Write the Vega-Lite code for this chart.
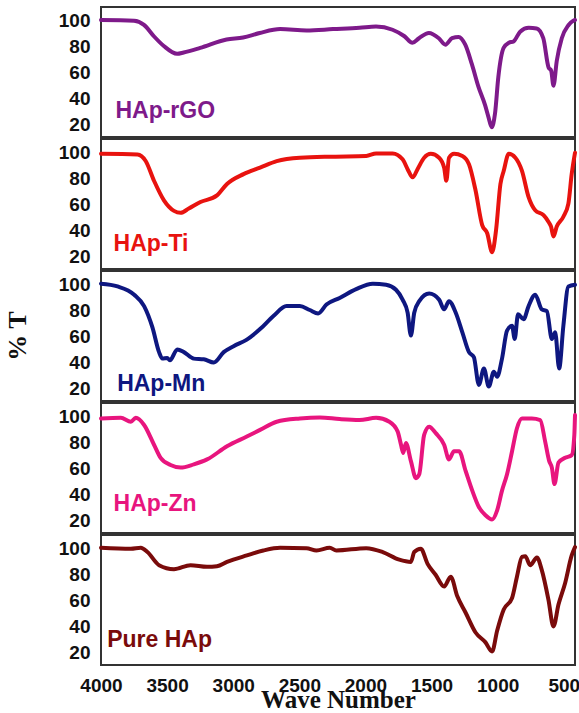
{
"$schema": "https://vega.github.io/schema/vega-lite/v6.json",
"padding": {"left": 5, "top": 6, "right": 3, "bottom": 0},
"background": "white",
"datasets": {"d": [
{"k":"d","s":"HAp-rGO","w":4000,"t":100},{"k":"d","s":"HAp-rGO","w":3750,"t":99.5},{"k":"d","s":"HAp-rGO","w":3675,"t":96.3},{"k":"d","s":"HAp-rGO","w":3600,"t":87.5},{"k":"d","s":"HAp-rGO","w":3525,"t":80},{"k":"d","s":"HAp-rGO","w":3425,"t":74},{"k":"d","s":"HAp-rGO","w":3375,"t":75},{"k":"d","s":"HAp-rGO","w":3250,"t":78.5},{"k":"d","s":"HAp-rGO","w":3050,"t":85},{"k":"d","s":"HAp-rGO","w":2925,"t":86.5},{"k":"d","s":"HAp-rGO","w":2800,"t":90},{"k":"d","s":"HAp-rGO","w":2645,"t":93},{"k":"d","s":"HAp-rGO","w":2445,"t":92},{"k":"d","s":"HAp-rGO","w":2245,"t":93},{"k":"d","s":"HAp-rGO","w":2045,"t":94},{"k":"d","s":"HAp-rGO","w":1920,"t":95},{"k":"d","s":"HAp-rGO","w":1795,"t":92.5},{"k":"d","s":"HAp-rGO","w":1705,"t":87.5},{"k":"d","s":"HAp-rGO","w":1645,"t":82.5},{"k":"d","s":"HAp-rGO","w":1595,"t":86},{"k":"d","s":"HAp-rGO","w":1520,"t":90},{"k":"d","s":"HAp-rGO","w":1445,"t":86},{"k":"d","s":"HAp-rGO","w":1395,"t":81},{"k":"d","s":"HAp-rGO","w":1345,"t":86},{"k":"d","s":"HAp-rGO","w":1295,"t":87},{"k":"d","s":"HAp-rGO","w":1245,"t":81},{"k":"d","s":"HAp-rGO","w":1195,"t":66},{"k":"d","s":"HAp-rGO","w":1145,"t":48.5},{"k":"d","s":"HAp-rGO","w":1095,"t":34.5},{"k":"d","s":"HAp-rGO","w":1070,"t":25.5},{"k":"d","s":"HAp-rGO","w":1045,"t":17.5},{"k":"d","s":"HAp-rGO","w":1020,"t":28},{"k":"d","s":"HAp-rGO","w":995,"t":56},{"k":"d","s":"HAp-rGO","w":955,"t":78.5},{"k":"d","s":"HAp-rGO","w":915,"t":82.5},{"k":"d","s":"HAp-rGO","w":880,"t":83.5},{"k":"d","s":"HAp-rGO","w":830,"t":91},{"k":"d","s":"HAp-rGO","w":765,"t":94},{"k":"d","s":"HAp-rGO","w":705,"t":93.5},{"k":"d","s":"HAp-rGO","w":655,"t":86},{"k":"d","s":"HAp-rGO","w":615,"t":63.5},{"k":"d","s":"HAp-rGO","w":595,"t":61},{"k":"d","s":"HAp-rGO","w":578,"t":49.5},{"k":"d","s":"HAp-rGO","w":553,"t":68.5},{"k":"d","s":"HAp-rGO","w":515,"t":86},{"k":"d","s":"HAp-rGO","w":465,"t":96},{"k":"d","s":"HAp-rGO","w":428,"t":99.5},{"k":"d","s":"HAp-rGO","w":415,"t":100},
{"k":"d","s":"HAp-Ti","w":4000,"t":98.6},{"k":"d","s":"HAp-Ti","w":3724,"t":98.1},{"k":"d","s":"HAp-Ti","w":3662,"t":93.1},{"k":"d","s":"HAp-Ti","w":3599,"t":77.9},{"k":"d","s":"HAp-Ti","w":3524,"t":62.8},{"k":"d","s":"HAp-Ti","w":3448,"t":54.7},{"k":"d","s":"HAp-Ti","w":3398,"t":53.2},{"k":"d","s":"HAp-Ti","w":3336,"t":56.5},{"k":"d","s":"HAp-Ti","w":3248,"t":61.5},{"k":"d","s":"HAp-Ti","w":3123,"t":66.6},{"k":"d","s":"HAp-Ti","w":3047,"t":75.4},{"k":"d","s":"HAp-Ti","w":2922,"t":83},{"k":"d","s":"HAp-Ti","w":2797,"t":88},{"k":"d","s":"HAp-Ti","w":2671,"t":93},{"k":"d","s":"HAp-Ti","w":2496,"t":95.6},{"k":"d","s":"HAp-Ti","w":2245,"t":96.4},{"k":"d","s":"HAp-Ti","w":1994,"t":96.9},{"k":"d","s":"HAp-Ti","w":1919,"t":98.9},{"k":"d","s":"HAp-Ti","w":1794,"t":98.9},{"k":"d","s":"HAp-Ti","w":1719,"t":94.4},{"k":"d","s":"HAp-Ti","w":1681,"t":86.8},{"k":"d","s":"HAp-Ti","w":1643,"t":80.5},{"k":"d","s":"HAp-Ti","w":1606,"t":86.8},{"k":"d","s":"HAp-Ti","w":1556,"t":95.6},{"k":"d","s":"HAp-Ti","w":1506,"t":98.6},{"k":"d","s":"HAp-Ti","w":1443,"t":95.6},{"k":"d","s":"HAp-Ti","w":1405,"t":88},{"k":"d","s":"HAp-Ti","w":1388,"t":77.9},{"k":"d","s":"HAp-Ti","w":1368,"t":95.6},{"k":"d","s":"HAp-Ti","w":1330,"t":98.6},{"k":"d","s":"HAp-Ti","w":1267,"t":96.9},{"k":"d","s":"HAp-Ti","w":1217,"t":90.6},{"k":"d","s":"HAp-Ti","w":1167,"t":70.4},{"k":"d","s":"HAp-Ti","w":1117,"t":43.8},{"k":"d","s":"HAp-Ti","w":1079,"t":37.5},{"k":"d","s":"HAp-Ti","w":1042,"t":22.9},{"k":"d","s":"HAp-Ti","w":1012,"t":40},{"k":"d","s":"HAp-Ti","w":979,"t":75.4},{"k":"d","s":"HAp-Ti","w":954,"t":85.5},{"k":"d","s":"HAp-Ti","w":916,"t":98.6},{"k":"d","s":"HAp-Ti","w":866,"t":95.6},{"k":"d","s":"HAp-Ti","w":816,"t":85.5},{"k":"d","s":"HAp-Ti","w":766,"t":65.3},{"k":"d","s":"HAp-Ti","w":716,"t":55.2},{"k":"d","s":"HAp-Ti","w":653,"t":51.4},{"k":"d","s":"HAp-Ti","w":616,"t":46.4},{"k":"d","s":"HAp-Ti","w":596,"t":42.6},{"k":"d","s":"HAp-Ti","w":578,"t":35},{"k":"d","s":"HAp-Ti","w":553,"t":42.6},{"k":"d","s":"HAp-Ti","w":503,"t":50.2},{"k":"d","s":"HAp-Ti","w":465,"t":60.3},{"k":"d","s":"HAp-Ti","w":440,"t":83},{"k":"d","s":"HAp-Ti","w":415,"t":99.4},
{"k":"d","s":"HAp-Mn","w":4000,"t":100.2},{"k":"d","s":"HAp-Mn","w":3875,"t":98.1},{"k":"d","s":"HAp-Mn","w":3749,"t":91.8},{"k":"d","s":"HAp-Mn","w":3674,"t":83},{"k":"d","s":"HAp-Mn","w":3611,"t":66.6},{"k":"d","s":"HAp-Mn","w":3561,"t":47.6},{"k":"d","s":"HAp-Mn","w":3536,"t":42.6},{"k":"d","s":"HAp-Mn","w":3499,"t":43.1},{"k":"d","s":"HAp-Mn","w":3479,"t":41.3},{"k":"d","s":"HAp-Mn","w":3423,"t":49.7},{"k":"d","s":"HAp-Mn","w":3373,"t":47.6},{"k":"d","s":"HAp-Mn","w":3298,"t":42.6},{"k":"d","s":"HAp-Mn","w":3223,"t":42.1},{"k":"d","s":"HAp-Mn","w":3147,"t":39.6},{"k":"d","s":"HAp-Mn","w":3072,"t":47.6},{"k":"d","s":"HAp-Mn","w":2997,"t":52.2},{"k":"d","s":"HAp-Mn","w":2897,"t":57.2},{"k":"d","s":"HAp-Mn","w":2797,"t":65.3},{"k":"d","s":"HAp-Mn","w":2696,"t":75.4},{"k":"d","s":"HAp-Mn","w":2596,"t":83},{"k":"d","s":"HAp-Mn","w":2496,"t":83},{"k":"d","s":"HAp-Mn","w":2421,"t":80},{"k":"d","s":"HAp-Mn","w":2358,"t":77.4},{"k":"d","s":"HAp-Mn","w":2295,"t":84.2},{"k":"d","s":"HAp-Mn","w":2195,"t":89.3},{"k":"d","s":"HAp-Mn","w":2070,"t":96.1},{"k":"d","s":"HAp-Mn","w":1944,"t":100.2},{"k":"d","s":"HAp-Mn","w":1844,"t":99.4},{"k":"d","s":"HAp-Mn","w":1769,"t":95.6},{"k":"d","s":"HAp-Mn","w":1719,"t":88},{"k":"d","s":"HAp-Mn","w":1681,"t":77.9},{"k":"d","s":"HAp-Mn","w":1656,"t":60.3},{"k":"d","s":"HAp-Mn","w":1631,"t":77.9},{"k":"d","s":"HAp-Mn","w":1593,"t":86.8},{"k":"d","s":"HAp-Mn","w":1518,"t":92.6},{"k":"d","s":"HAp-Mn","w":1443,"t":88},{"k":"d","s":"HAp-Mn","w":1405,"t":80.5},{"k":"d","s":"HAp-Mn","w":1368,"t":86.8},{"k":"d","s":"HAp-Mn","w":1317,"t":77.9},{"k":"d","s":"HAp-Mn","w":1267,"t":62.8},{"k":"d","s":"HAp-Mn","w":1217,"t":47.6},{"k":"d","s":"HAp-Mn","w":1180,"t":43.8},{"k":"d","s":"HAp-Mn","w":1142,"t":22.4},{"k":"d","s":"HAp-Mn","w":1104,"t":35},{"k":"d","s":"HAp-Mn","w":1067,"t":21.1},{"k":"d","s":"HAp-Mn","w":1029,"t":32.5},{"k":"d","s":"HAp-Mn","w":1004,"t":28.7},{"k":"d","s":"HAp-Mn","w":967,"t":42.6},{"k":"d","s":"HAp-Mn","w":929,"t":64.1},{"k":"d","s":"HAp-Mn","w":891,"t":67.8},{"k":"d","s":"HAp-Mn","w":871,"t":57.7},{"k":"d","s":"HAp-Mn","w":846,"t":76.7},{"k":"d","s":"HAp-Mn","w":804,"t":72.9},{"k":"d","s":"HAp-Mn","w":766,"t":83},{"k":"d","s":"HAp-Mn","w":716,"t":91.8},{"k":"d","s":"HAp-Mn","w":666,"t":80.5},{"k":"d","s":"HAp-Mn","w":628,"t":79.2},{"k":"d","s":"HAp-Mn","w":590,"t":57.7},{"k":"d","s":"HAp-Mn","w":565,"t":62.8},{"k":"d","s":"HAp-Mn","w":535,"t":35},{"k":"d","s":"HAp-Mn","w":503,"t":67.8},{"k":"d","s":"HAp-Mn","w":465,"t":98.1},{"k":"d","s":"HAp-Mn","w":415,"t":99.4},
{"k":"d","s":"HAp-Zn","w":4000,"t":98.1},{"k":"d","s":"HAp-Zn","w":3850,"t":98.6},{"k":"d","s":"HAp-Zn","w":3774,"t":95.6},{"k":"d","s":"HAp-Zn","w":3737,"t":98.6},{"k":"d","s":"HAp-Zn","w":3674,"t":93.1},{"k":"d","s":"HAp-Zn","w":3599,"t":77.9},{"k":"d","s":"HAp-Zn","w":3549,"t":67.8},{"k":"d","s":"HAp-Zn","w":3474,"t":62.3},{"k":"d","s":"HAp-Zn","w":3398,"t":60.3},{"k":"d","s":"HAp-Zn","w":3298,"t":62.8},{"k":"d","s":"HAp-Zn","w":3198,"t":66.6},{"k":"d","s":"HAp-Zn","w":3047,"t":76.7},{"k":"d","s":"HAp-Zn","w":2897,"t":84.2},{"k":"d","s":"HAp-Zn","w":2797,"t":89.3},{"k":"d","s":"HAp-Zn","w":2671,"t":95.6},{"k":"d","s":"HAp-Zn","w":2496,"t":98.1},{"k":"d","s":"HAp-Zn","w":2345,"t":98.9},{"k":"d","s":"HAp-Zn","w":2195,"t":97.6},{"k":"d","s":"HAp-Zn","w":2045,"t":96.9},{"k":"d","s":"HAp-Zn","w":1919,"t":98.6},{"k":"d","s":"HAp-Zn","w":1819,"t":95.6},{"k":"d","s":"HAp-Zn","w":1756,"t":88},{"k":"d","s":"HAp-Zn","w":1731,"t":77.9},{"k":"d","s":"HAp-Zn","w":1714,"t":71.6},{"k":"d","s":"HAp-Zn","w":1694,"t":79.2},{"k":"d","s":"HAp-Zn","w":1656,"t":65.3},{"k":"d","s":"HAp-Zn","w":1618,"t":52.2},{"k":"d","s":"HAp-Zn","w":1593,"t":55.2},{"k":"d","s":"HAp-Zn","w":1556,"t":85.5},{"k":"d","s":"HAp-Zn","w":1518,"t":91.8},{"k":"d","s":"HAp-Zn","w":1468,"t":86.8},{"k":"d","s":"HAp-Zn","w":1405,"t":77.9},{"k":"d","s":"HAp-Zn","w":1368,"t":66.6},{"k":"d","s":"HAp-Zn","w":1330,"t":72.9},{"k":"d","s":"HAp-Zn","w":1292,"t":72.9},{"k":"d","s":"HAp-Zn","w":1242,"t":57.7},{"k":"d","s":"HAp-Zn","w":1192,"t":42.6},{"k":"d","s":"HAp-Zn","w":1142,"t":30},{"k":"d","s":"HAp-Zn","w":1092,"t":23.6},{"k":"d","s":"HAp-Zn","w":1042,"t":20.4},{"k":"d","s":"HAp-Zn","w":1004,"t":27.4},{"k":"d","s":"HAp-Zn","w":967,"t":42.6},{"k":"d","s":"HAp-Zn","w":929,"t":55.2},{"k":"d","s":"HAp-Zn","w":891,"t":72.9},{"k":"d","s":"HAp-Zn","w":854,"t":90.6},{"k":"d","s":"HAp-Zn","w":816,"t":98.1},{"k":"d","s":"HAp-Zn","w":741,"t":98.1},{"k":"d","s":"HAp-Zn","w":678,"t":96.9},{"k":"d","s":"HAp-Zn","w":641,"t":80.5},{"k":"d","s":"HAp-Zn","w":610,"t":65.3},{"k":"d","s":"HAp-Zn","w":590,"t":60.3},{"k":"d","s":"HAp-Zn","w":570,"t":47.6},{"k":"d","s":"HAp-Zn","w":540,"t":64.1},{"k":"d","s":"HAp-Zn","w":490,"t":67.8},{"k":"d","s":"HAp-Zn","w":440,"t":69.9},{"k":"d","s":"HAp-Zn","w":420,"t":85.5},{"k":"d","s":"HAp-Zn","w":415,"t":100.7},
{"k":"d","s":"Pure HAp","w":4000,"t":100.2},{"k":"d","s":"Pure HAp","w":3774,"t":99.4},{"k":"d","s":"Pure HAp","w":3699,"t":100.2},{"k":"d","s":"Pure HAp","w":3649,"t":96.9},{"k":"d","s":"Pure HAp","w":3561,"t":86.8},{"k":"d","s":"Pure HAp","w":3448,"t":83.7},{"k":"d","s":"Pure HAp","w":3323,"t":86.8},{"k":"d","s":"Pure HAp","w":3198,"t":85.5},{"k":"d","s":"Pure HAp","w":3123,"t":86},{"k":"d","s":"Pure HAp","w":3047,"t":89.3},{"k":"d","s":"Pure HAp","w":2897,"t":94.3},{"k":"d","s":"Pure HAp","w":2772,"t":98.1},{"k":"d","s":"Pure HAp","w":2646,"t":100.2},{"k":"d","s":"Pure HAp","w":2446,"t":99.9},{"k":"d","s":"Pure HAp","w":2370,"t":98.1},{"k":"d","s":"Pure HAp","w":2270,"t":100.2},{"k":"d","s":"Pure HAp","w":2220,"t":98.1},{"k":"d","s":"Pure HAp","w":1994,"t":99.9},{"k":"d","s":"Pure HAp","w":1869,"t":96.9},{"k":"d","s":"Pure HAp","w":1744,"t":91},{"k":"d","s":"Pure HAp","w":1656,"t":89.3},{"k":"d","s":"Pure HAp","w":1631,"t":96.9},{"k":"d","s":"Pure HAp","w":1581,"t":99.4},{"k":"d","s":"Pure HAp","w":1531,"t":88},{"k":"d","s":"Pure HAp","w":1468,"t":79.2},{"k":"d","s":"Pure HAp","w":1405,"t":70.4},{"k":"d","s":"Pure HAp","w":1355,"t":77.9},{"k":"d","s":"Pure HAp","w":1305,"t":62.8},{"k":"d","s":"Pure HAp","w":1242,"t":50.2},{"k":"d","s":"Pure HAp","w":1167,"t":35},{"k":"d","s":"Pure HAp","w":1092,"t":27.4},{"k":"d","s":"Pure HAp","w":1042,"t":20.4},{"k":"d","s":"Pure HAp","w":1004,"t":36.3},{"k":"d","s":"Pure HAp","w":954,"t":52.7},{"k":"d","s":"Pure HAp","w":891,"t":61.5},{"k":"d","s":"Pure HAp","w":854,"t":77.9},{"k":"d","s":"Pure HAp","w":816,"t":93.1},{"k":"d","s":"Pure HAp","w":791,"t":93.6},{"k":"d","s":"Pure HAp","w":754,"t":86.8},{"k":"d","s":"Pure HAp","w":703,"t":92.6},{"k":"d","s":"Pure HAp","w":666,"t":83},{"k":"d","s":"Pure HAp","w":616,"t":60.3},{"k":"d","s":"Pure HAp","w":578,"t":39.6},{"k":"d","s":"Pure HAp","w":540,"t":56.5},{"k":"d","s":"Pure HAp","w":490,"t":72.9},{"k":"d","s":"Pure HAp","w":440,"t":94.3},{"k":"d","s":"Pure HAp","w":415,"t":100.7},
{"k":"l","s":"HAp-rGO","w":3891,"t":24.4},{"k":"l","s":"HAp-Ti","w":3905,"t":23.6},{"k":"l","s":"HAp-Mn","w":3878,"t":17.8},{"k":"l","s":"HAp-Zn","w":3905,"t":26.9},{"k":"l","s":"Pure HAp","w":3953,"t":23.6}
]},
"data": {"name": "d"},
"facet": {"row": {"field": "s", "type": "nominal", "sort": ["HAp-rGO","HAp-Ti","HAp-Mn","HAp-Zn","Pure HAp"], "title": "% T",
  "header": {"labels": false, "titleFont": "Liberation Serif", "titleFontSize": 26, "titleFontWeight": "bold", "titleColor": "#111", "titlePadding": 17}}},
"spacing": {"row": 0},
"spec": {
  "width": 474, "height": 130,
  "layer": [
    {"transform": [{"filter": "datum.k == 'd'"}],
     "mark": {"type": "line", "strokeWidth": 4, "strokeJoin": "round", "strokeCap": "round", "interpolate": "monotone"},
     "encoding": {
       "x": {"field": "w", "type": "quantitative", "title": "Wave Number", "scale": {"domain": [4000, 415], "nice": false, "zero": false},
             "axis": {"values": [4000,3500,3000,2500,2000,1500,1000,500], "format": "d", "labelFlush": false, "labelOverlap": false, "labelPadding": 10, "titlePadding": -8}},
       "y": {"field": "t", "type": "quantitative", "title": null, "scale": {"domain": [10, 110], "nice": false, "zero": false},
             "axis": {"values": [20,40,60,80,100], "labelOverlap": false, "labelBound": false, "labelPadding": 8}},
       "color": {"field": "s", "type": "nominal", "legend": null,
                 "scale": {"domain": ["HAp-rGO","HAp-Ti","HAp-Mn","HAp-Zn","Pure HAp"], "range": ["#7E1A8A","#E8130F","#0E1780","#E8157E","#7A0B0B"]}}
     }},
    {"transform": [{"filter": "datum.k == 'l'"}],
     "mark": {"type": "text", "align": "left", "baseline": "alphabetic", "font": "Liberation Sans", "fontWeight": "bold", "fontSize": 23},
     "encoding": {
       "x": {"field": "w", "type": "quantitative", "title": "Wave Number", "scale": {"domain": [4000, 415], "nice": false, "zero": false},
             "axis": {"values": [4000,3500,3000,2500,2000,1500,1000,500], "format": "d", "labelFlush": false, "labelOverlap": false, "labelPadding": 10, "titlePadding": -8}},
       "y": {"field": "t", "type": "quantitative", "title": null, "scale": {"domain": [10, 110], "nice": false, "zero": false},
             "axis": {"values": [20,40,60,80,100], "labelOverlap": false, "labelBound": false, "labelPadding": 8}},
       "text": {"field": "s"},
       "color": {"field": "s", "type": "nominal", "legend": null}
     }}
  ]
},
"config": {
  "view": {"stroke": "#333", "strokeWidth": 2},
  "axis": {"grid": false, "ticks": false, "domain": false, "labelFont": "Liberation Sans", "labelFontWeight": "bold", "labelFontSize": 19, "labelColor": "#111", "labelOverlap": false,
           "titleFont": "Liberation Serif", "titleFontWeight": "bold", "titleFontSize": 25, "titleColor": "#111"}
}
}
